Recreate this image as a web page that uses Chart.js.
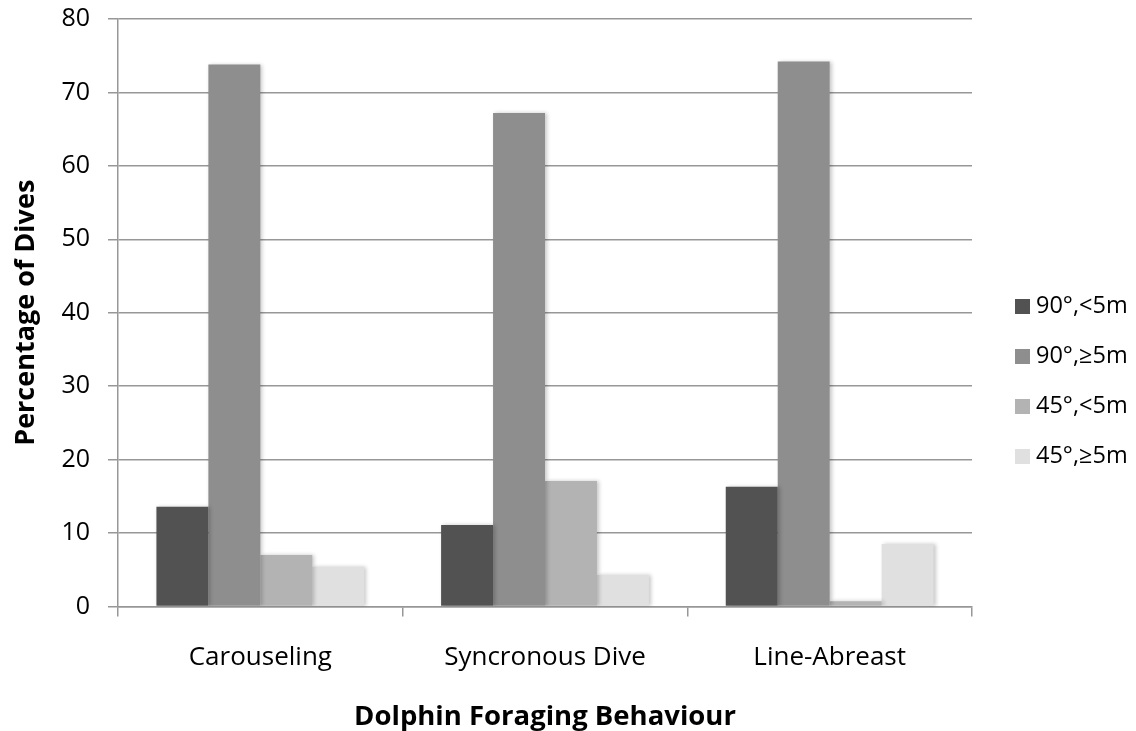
<!DOCTYPE html>
<html>
<head>
<meta charset="utf-8">
<script src="https://cdn.jsdelivr.net/npm/chart.js@4/dist/chart.umd.min.js"></script>
<style>
  html, body { margin: 0; padding: 0; background: #fff; }
  #wrap { width: 1136px; height: 731px; }
</style>
</head>
<body>
<div id="wrap"><canvas id="grafico" width="1136" height="731"></canvas></div>
<script>
// dados
const categorias = ['Carouseling', 'Syncronous Dive', 'Line-Abreast'];
const series = ['90°,<5m', '90°,≥5m', '45°,<5m', '45°,≥5m'];
const v90menos5 = [13.6, 11.1, 16.3];
const v90mais5 = [73.8, 67.2, 74.2];
const v45menos5 = [7.0, 17.1, 0.7];
const v45mais5 = [5.4, 4.3, 8.5];
const ticksY = [0, 10, 20, 30, 40, 50, 60, 70, 80];

const cores = ['#525252', '#8e8e8e', '#b3b3b3', '#e0e0e0'];
const valores = [v90menos5, v90mais5, v45menos5, v45mais5];
const fonte = "'Open Sans', sans-serif";
const cinza = '#979797';

// sombra leve nas barras
const sombra = {
  id: 'sombra',
  beforeDatasetsDraw(chart) {
    const ctx = chart.ctx;
    ctx.save();
    ctx.shadowColor = 'rgba(0,0,0,0.22)';
    ctx.shadowBlur = 4;
    ctx.shadowOffsetX = 2;
    ctx.shadowOffsetY = 0;
  },
  afterDatasetsDraw(chart) {
    chart.ctx.restore();
  }
};

// legenda desenhada à direita
const legenda = {
  id: 'legenda',
  afterDraw(chart) {
    const ctx = chart.ctx;
    ctx.save();
    ctx.font = '23.5px ' + fonte;
    ctx.textBaseline = 'middle';
    ctx.textAlign = 'left';
    chart.data.datasets.forEach((ds, i) => {
      const y = 306 + i * 50;
      ctx.fillStyle = ds.backgroundColor;
      ctx.fillRect(1015, y - 7, 15, 15);
      ctx.fillStyle = '#000';
      ctx.fillText(ds.label, 1036, y);
    });
    ctx.restore();
  }
};

function semPadding(scale) {
  scale.paddingTop = 0;
  scale.paddingBottom = 0;
  scale.paddingLeft = 0;
  scale.paddingRight = 0;
}

const ctx = document.getElementById('grafico').getContext('2d');
new Chart(ctx, {
  type: 'bar',
  data: {
    labels: categorias,
    datasets: series.map((nome, i) => ({
      label: nome,
      data: valores[i],
      backgroundColor: cores[i],
      borderWidth: 0,
      categoryPercentage: 0.73,
      barPercentage: 1
    }))
  },
  options: {
    responsive: false,
    animation: false,
    layout: { padding: { left: 0, right: 164, top: 19, bottom: 0 } },
    plugins: {
      legend: { display: false },
      tooltip: { enabled: false }
    },
    scales: {
      x: {
        grid: {
          offset: true,
          drawOnChartArea: false,
          color: cinza,
          lineWidth: 1.5,
          tickLength: 10
        },
        border: { color: cinza, width: 1.5 },
        ticks: {
          color: '#000',
          font: { family: fonte, size: 26 },
          padding: 25
        },
        title: {
          display: true,
          text: 'Dolphin Foraging Behaviour',
          color: '#000',
          font: { family: fonte, size: 27.5, weight: 'bold' },
          padding: { top: 0, bottom: -3 }
        },
        afterFit(scale) { scale.height = 124.5; semPadding(scale); }
      },
      y: {
        min: 0,
        max: 80,
        afterBuildTicks(scale) { scale.ticks = ticksY.map(v => ({ value: v })); },
        grid: {
          color: cinza,
          lineWidth: 1.5,
          tickLength: 10
        },
        border: { color: cinza, width: 1.5 },
        ticks: {
          color: '#000',
          font: { family: fonte, size: 25 },
          padding: 18
        },
        title: {
          display: true,
          text: 'Percentage of Dives',
          color: '#000',
          font: { family: fonte, size: 27, weight: 'bold' },
          padding: { top: 10, bottom: 0 }
        },
        afterFit(scale) { scale.width = 118; semPadding(scale); }
      }
    }
  },
  plugins: [sombra, legenda]
});
</script>
</body>
</html>
